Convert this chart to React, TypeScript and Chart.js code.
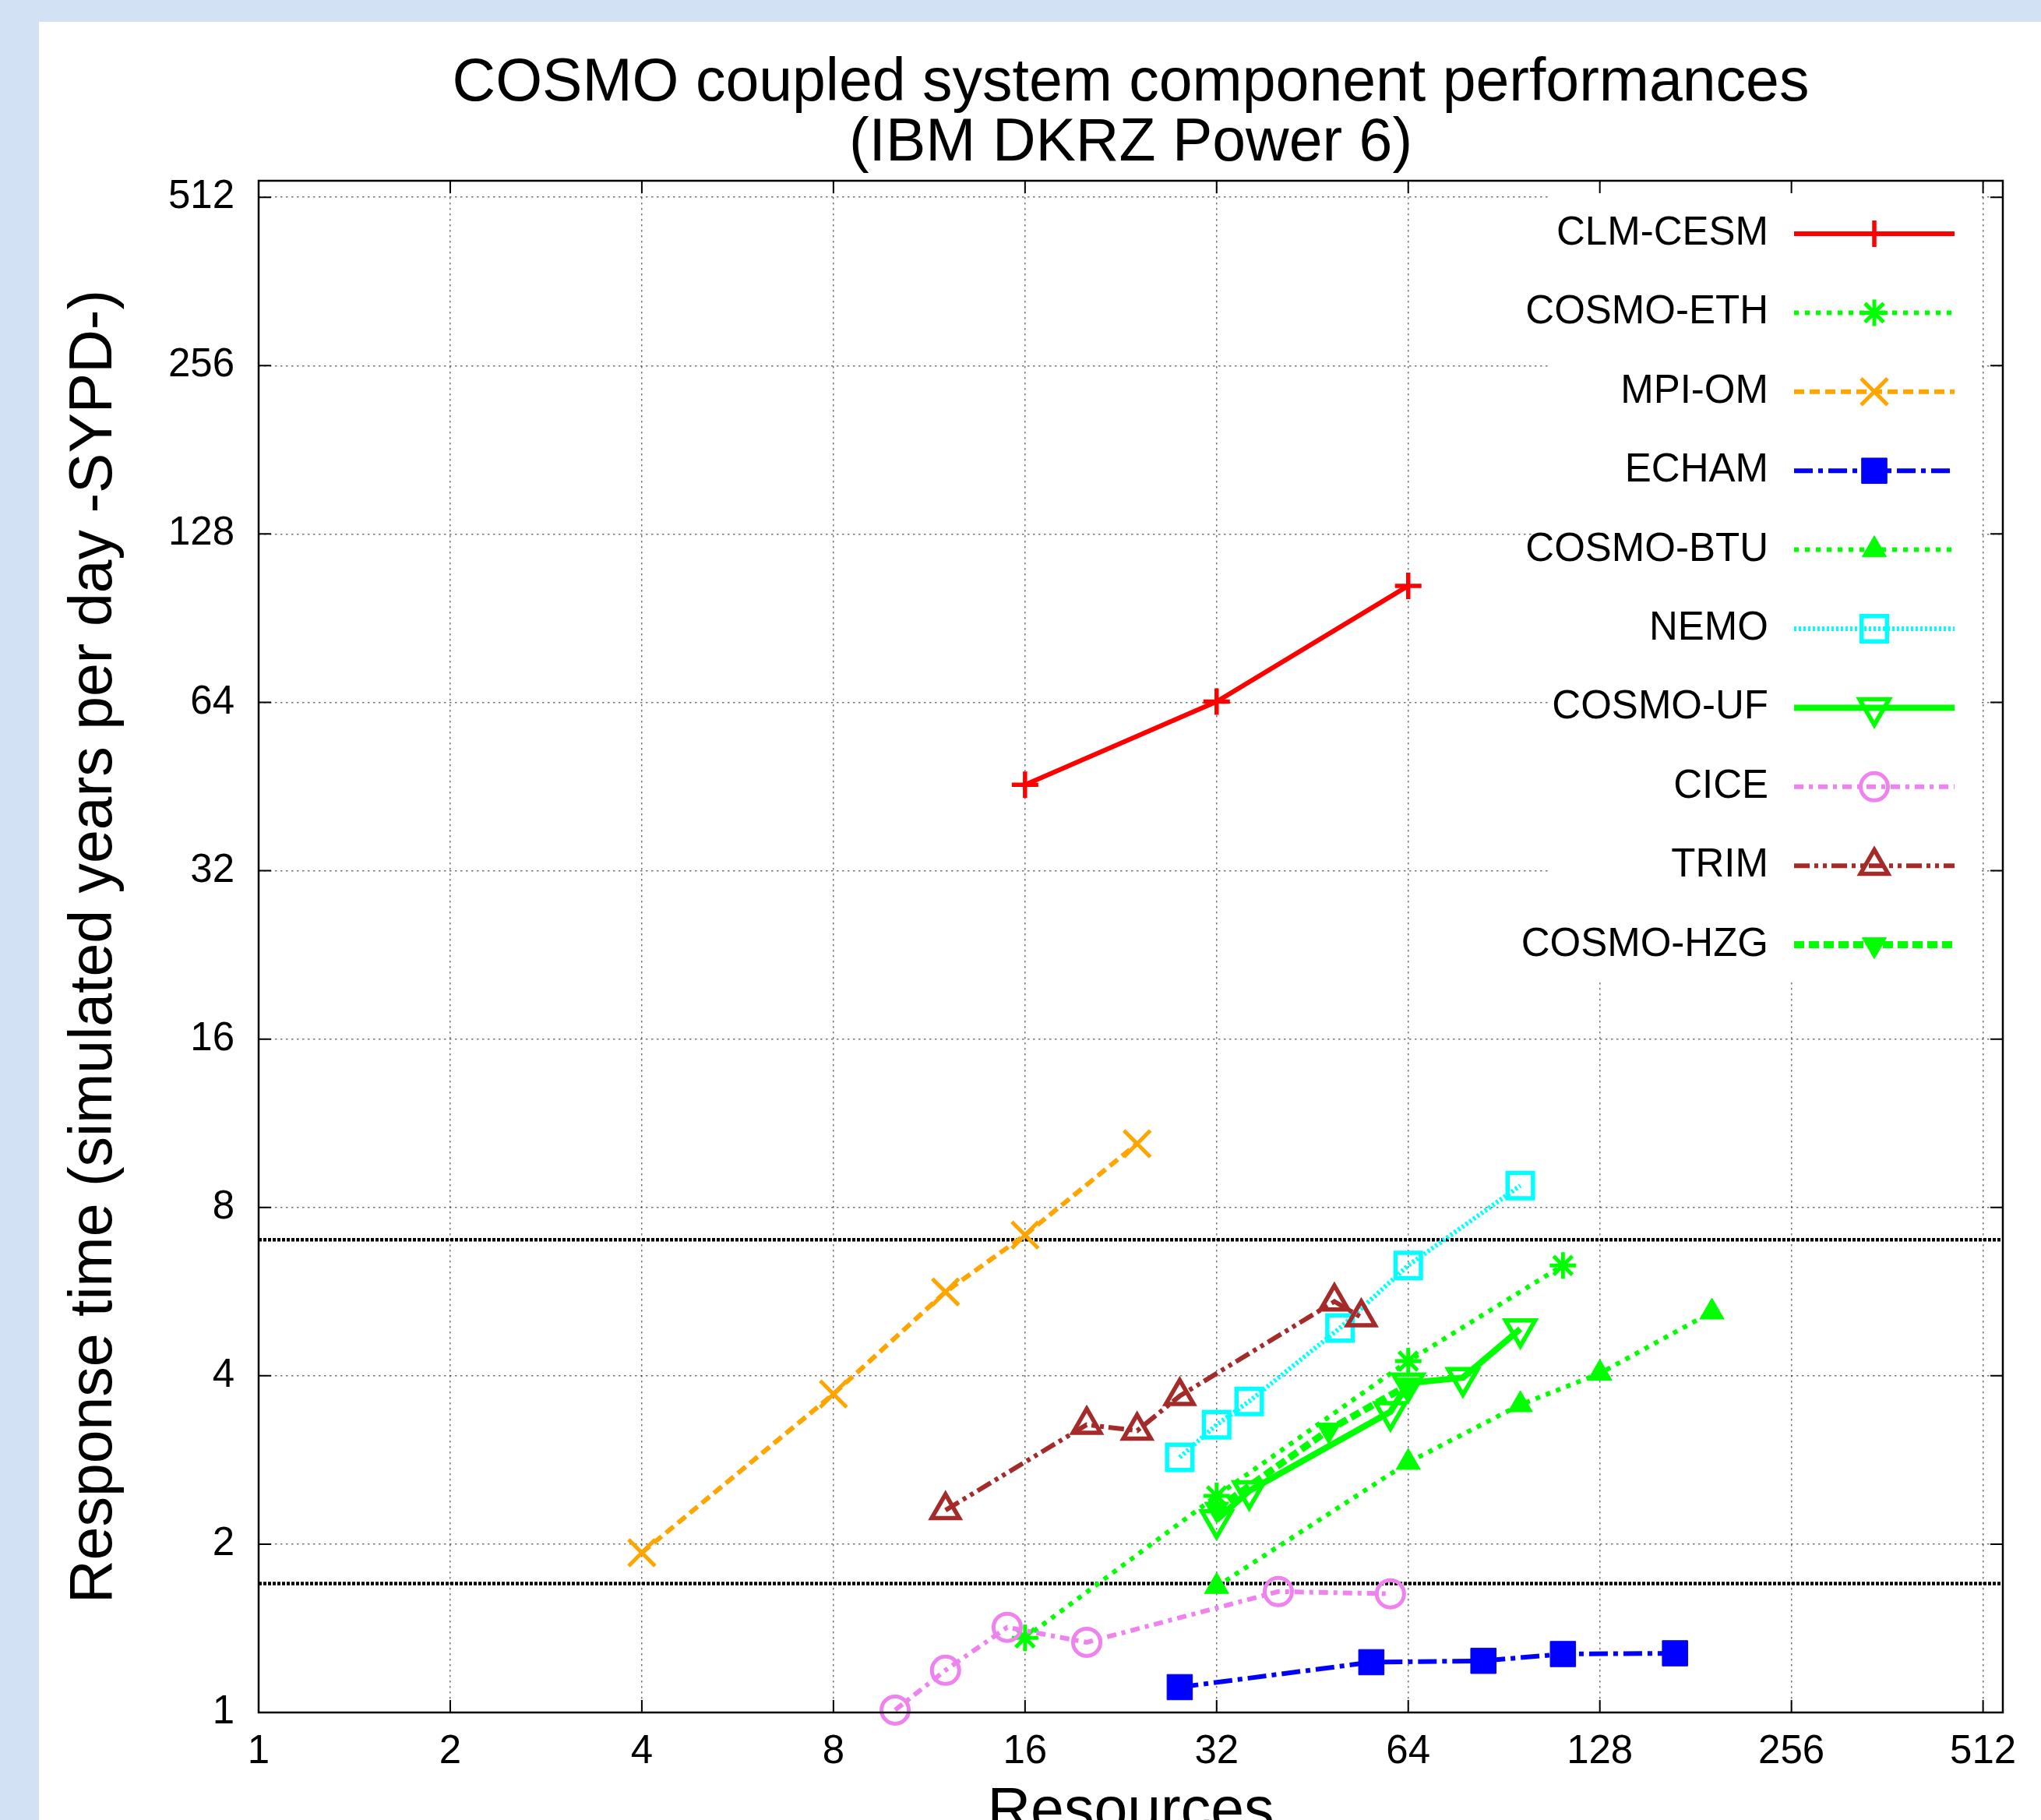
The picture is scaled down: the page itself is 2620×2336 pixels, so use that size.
import React, { useEffect, useRef } from "react";
import { Chart, registerables } from "chart.js";

Chart.register(...registerables);

const W = 2620;
const H = 2440;
const FONT = "'Liberation Sans', Arial, Helvetica, sans-serif";

// ---- text ----
const titleLines = ["COSMO coupled system component performances", "(IBM DKRZ Power 6)"];
const xAxisTitle = "Resources";
const yAxisTitle = "Response time (simulated years per day -SYPD-)";

// ---- ticks ----
const xTickValues = [1, 2, 4, 8, 16, 32, 64, 128, 256, 512];
const yTickValues = [1, 2, 4, 8, 16, 32, 64, 128, 256, 512];
const xMin = 1;
const xMax = 550;
const yMin = 1;
const yMax = 548;

// ---- series ----
const seriesNames = [
  "CLM-CESM",
  "COSMO-ETH",
  "MPI-OM",
  "ECHAM",
  "COSMO-BTU",
  "NEMO",
  "COSMO-UF",
  "CICE",
  "TRIM",
  "COSMO-HZG",
];

const clmCesmX = [16, 32, 64];
const clmCesmY = [45.6, 64.2, 103.4];

const cosmoEthX = [16, 32, 64, 112];
const cosmoEthY = [1.36, 2.44, 4.25, 6.3];

const mpiOmX = [4, 8, 12, 16, 24];
const mpiOmY = [1.93, 3.71, 5.65, 7.14, 10.4];

const echamX = [28, 56, 84, 112, 168];
const echamY = [1.11, 1.23, 1.237, 1.272, 1.276];

const cosmoBtuX = [32, 64, 96, 128, 192];
const cosmoBtuY = [1.68, 2.8, 3.55, 4.04, 5.2];

const nemoX = [28, 32, 36, 50, 64, 96];
const nemoY = [2.86, 3.27, 3.6, 4.87, 6.3, 8.75];

const cosmoUfX = [32, 36, 60, 64, 78, 96];
const cosmoUfY = [2.21, 2.49, 3.45, 3.88, 3.97, 4.85];

const ciceX = [10, 12, 15, 20, 40, 60];
const ciceY = [1.01, 1.19, 1.42, 1.335, 1.645, 1.63];

const trimX = [12, 20, 24, 28, 49, 54];
const trimY = [2.3, 3.27, 3.19, 3.68, 5.43, 5.09];

const cosmoHzgX = [32, 48, 64];
const cosmoHzgY = [2.31, 3.2, 3.85];

const thresholdValues = [7, 1.7];

const seriesX = [clmCesmX, cosmoEthX, mpiOmX, echamX, cosmoBtuX, nemoX, cosmoUfX, ciceX, trimX, cosmoHzgX];
const seriesY = [clmCesmY, cosmoEthY, mpiOmY, echamY, cosmoBtuY, nemoY, cosmoUfY, ciceY, trimY, cosmoHzgY];

// ---- styles ----
type Sty = {
  color: string;
  width: number;
  dash: number[];
  point: string;
  radius: number;
  rot: number;
  fill: boolean;
  pw: number;
};
const seriesStyles: Sty[] = [
  { color: "#ff0000", width: 6, dash: [], point: "cross", radius: 17, rot: 0, fill: false, pw: 5.5 },
  { color: "#00ff00", width: 6, dash: [6, 8], point: "star", radius: 17, rot: 0, fill: false, pw: 5 },
  { color: "#ffa500", width: 6, dash: [13, 7], point: "crossRot", radius: 24, rot: 0, fill: false, pw: 5 },
  { color: "#0000ff", width: 6, dash: [24, 7, 6, 7], point: "rect", radius: 23, rot: 0, fill: true, pw: 1 },
  { color: "#00ff00", width: 6, dash: [6, 8], point: "triangle", radius: 18, rot: 0, fill: true, pw: 1 },
  { color: "#00ffff", width: 6, dash: [3, 3], point: "rect", radius: 23, rot: 0, fill: false, pw: 5.5 },
  { color: "#00ff00", width: 8, dash: [], point: "triangle", radius: 22, rot: 180, fill: false, pw: 5.5 },
  { color: "#ee82ee", width: 6, dash: [12, 7, 5, 7], point: "circle", radius: 17.5, rot: 0, fill: false, pw: 5 },
  { color: "#a52a2a", width: 6, dash: [20, 6, 5, 6, 5, 6], point: "triangle", radius: 20.5, rot: 0, fill: false, pw: 5.5 },
  { color: "#00ff00", width: 9, dash: [13, 6], point: "triangle", radius: 18, rot: 180, fill: true, pw: 1 },
];

// ---- marker drawing for the legend (same geometry as Chart.js point styles) ----
function drawMarker(ctx: CanvasRenderingContext2D, s: Sty, x: number, y: number) {
  const r = s.radius;
  let rad = (s.rot * Math.PI) / 180;
  ctx.save();
  ctx.setLineDash([]);
  ctx.strokeStyle = s.color;
  ctx.fillStyle = s.fill ? s.color : "rgba(0,0,0,0)";
  ctx.lineWidth = s.pw;
  ctx.beginPath();
  const cross = (a: number) => {
    const xo = Math.cos(a) * r;
    const yo = Math.sin(a) * r;
    ctx.moveTo(x - xo, y - yo);
    ctx.lineTo(x + xo, y + yo);
    ctx.moveTo(x + yo, y - xo);
    ctx.lineTo(x - yo, y + xo);
  };
  switch (s.point) {
    case "circle":
      ctx.arc(x, y, r, 0, Math.PI * 2);
      ctx.closePath();
      break;
    case "cross":
      cross(rad);
      break;
    case "crossRot":
      cross(rad + Math.PI / 4);
      break;
    case "star":
      cross(rad);
      cross(rad + Math.PI / 4);
      break;
    case "rect": {
      const sz = Math.SQRT1_2 * r;
      ctx.rect(x - sz, y - sz, 2 * sz, 2 * sz);
      break;
    }
    case "triangle":
      ctx.moveTo(x + Math.sin(rad) * r, y - Math.cos(rad) * r);
      rad += (2 * Math.PI) / 3;
      ctx.lineTo(x + Math.sin(rad) * r, y - Math.cos(rad) * r);
      rad += (2 * Math.PI) / 3;
      ctx.lineTo(x + Math.sin(rad) * r, y - Math.cos(rad) * r);
      ctx.closePath();
      break;
  }
  if (s.fill) ctx.fill();
  ctx.stroke();
  ctx.restore();
}

// ---- plugins ----
const pageBackground = {
  id: "pageBackground",
  beforeDraw(chart: any) {
    const ctx = chart.ctx;
    ctx.save();
    ctx.fillStyle = "#d3e1f5";
    ctx.fillRect(0, 0, W, H);
    ctx.fillStyle = "#ffffff";
    ctx.fillRect(50, 28, W - 50, H - 28);
    ctx.restore();
  },
};

const LEG = { boxL: 1991, boxR: 2540, boxT: 234, boxB: 1258, textX: 2270, lineL: 2303, lineR: 2509, markX: 2406, y0: 300, step: 101.4 };

const legendBox = {
  id: "legendBox",
  beforeDatasetsDraw(chart: any) {
    const ctx = chart.ctx;
    ctx.save();
    ctx.fillStyle = "#ffffff";
    ctx.fillRect(LEG.boxL, LEG.boxT, LEG.boxR - LEG.boxL, LEG.boxB - LEG.boxT);
    ctx.restore();
  },
  afterDatasetsDraw(chart: any) {
    const ctx = chart.ctx;
    const { left, right, top, bottom } = chart.chartArea;
    const xs = chart.scales.x;
    const ys = chart.scales.y;
    ctx.save();
    // frame
    ctx.strokeStyle = "#000";
    ctx.lineWidth = 2.5;
    ctx.setLineDash([]);
    ctx.strokeRect(left, top, right - left, bottom - top);
    // inward tick marks on all four sides
    ctx.lineWidth = 2;
    const tl = 16;
    ctx.beginPath();
    xTickValues.forEach((v) => {
      const px = xs.getPixelForValue(v);
      ctx.moveTo(px, bottom);
      ctx.lineTo(px, bottom - tl);
      ctx.moveTo(px, top);
      ctx.lineTo(px, top + tl);
    });
    yTickValues.forEach((v) => {
      const py = ys.getPixelForValue(v);
      ctx.moveTo(left, py);
      ctx.lineTo(left + tl, py);
      ctx.moveTo(right, py);
      ctx.lineTo(right - tl, py);
    });
    ctx.stroke();
    // legend entries
    ctx.font = `51px ${FONT}`;
    ctx.textAlign = "right";
    ctx.textBaseline = "middle";
    seriesNames.forEach((name, i) => {
      const s = seriesStyles[i];
      const y = LEG.y0 + i * LEG.step;
      ctx.fillStyle = "#000";
      ctx.fillText(name, LEG.textX, y);
      ctx.save();
      ctx.strokeStyle = s.color;
      ctx.lineWidth = s.width;
      ctx.setLineDash(s.dash);
      ctx.beginPath();
      ctx.moveTo(LEG.lineL, y);
      ctx.lineTo(LEG.lineR, y);
      ctx.stroke();
      ctx.restore();
      drawMarker(ctx, s, LEG.markX, y);
    });
    ctx.restore();
  },
};

export default function App() {
  const ref = useRef<HTMLCanvasElement>(null);

  useEffect(() => {
    if (!ref.current) return;

    const datasets: any[] = seriesNames.map((name, i) => {
      const s = seriesStyles[i];
      return {
        label: name,
        data: seriesX[i].map((x, j) => ({ x, y: seriesY[i][j] })),
        borderColor: s.color,
        backgroundColor: s.color,
        borderWidth: s.width,
        borderDash: s.dash,
        pointStyle: s.point,
        pointRadius: s.radius,
        pointRotation: s.rot,
        pointBorderWidth: s.pw,
        pointBorderColor: s.color,
        pointBackgroundColor: s.fill ? s.color : "rgba(0,0,0,0)",
        fill: false,
        tension: 0,
        clip: false,
        order: 20 - i,
      };
    });

    thresholdValues.forEach((v) => {
      datasets.push({
        label: "threshold " + v,
        data: [
          { x: xMin, y: v },
          { x: xMax, y: v },
        ],
        borderColor: "#000000",
        borderWidth: 4.5,
        borderDash: [4, 2],
        pointRadius: 0,
        fill: false,
        tension: 0,
        clip: false,
        order: 100,
      });
    });

    const tickFont = { family: FONT, size: 51 };

    const chart = new Chart(ref.current, {
      type: "line",
      data: { datasets },
      options: {
        animation: false,
        responsive: false,
        devicePixelRatio: 1,
        events: [],
        layout: { padding: { left: 50, right: 49, top: 28, bottom: 40 } },
        plugins: {
          legend: { display: false },
          tooltip: { enabled: false },
          title: {
            display: true,
            text: titleLines,
            fullSize: false,
            color: "#000",
            font: { family: FONT, size: 77, weight: "normal", lineHeight: 77 / 77 },
            padding: { top: 41.5, bottom: 8.5 },
          },
        },
        scales: {
          x: {
            type: "logarithmic",
            position: "bottom",
            min: xMin,
            max: xMax,
            afterBuildTicks: (s: any) => {
              s.ticks = xTickValues.map((v) => ({ value: v }));
            },
            afterFit: (s: any) => {
              s.height = 202;
            },
            ticks: {
              autoSkip: false,
              maxRotation: 0,
              minRotation: 0,
              padding: 20,
              color: "#000",
              font: tickFont,
              callback: (v: any) => String(v),
            },
            grid: { color: "rgba(0,0,0,0.55)", lineWidth: 1.5, drawTicks: false },
            border: { display: false, dash: [2.5, 4.5] },
            title: {
              display: true,
              text: xAxisTitle,
              color: "#000",
              font: { family: FONT, size: 77, lineHeight: 1 },
              padding: { top: 0, bottom: 35 },
            },
          },
          y: {
            type: "logarithmic",
            position: "left",
            min: yMin,
            max: yMax,
            afterBuildTicks: (s: any) => {
              s.ticks = yTickValues.map((v) => ({ value: v }));
            },
            afterFit: (s: any) => {
              s.width = 282;
            },
            ticks: {
              autoSkip: false,
              padding: 31,
              color: "#000",
              font: tickFont,
              callback: (v: any) => String(v),
            },
            grid: { color: "rgba(0,0,0,0.55)", lineWidth: 1.5, drawTicks: false },
            border: { display: false, dash: [2.5, 4.5] },
            title: {
              display: true,
              text: yAxisTitle,
              color: "#000",
              font: { family: FONT, size: 77, lineHeight: 1 },
              padding: { top: 33.5, bottom: 0 },
            },
          },
        },
      },
      plugins: [pageBackground, legendBox],
    } as any);

    return () => chart.destroy();
  }, []);

  return (
    <div
      style={{
        position: "fixed",
        left: 0,
        top: 0,
        width: 2620,
        height: 2336,
        overflow: "hidden",
        background: "#d3e1f5",
      }}
    >
      <canvas ref={ref} width={W} height={H} style={{ display: "block", width: W, height: H }} />
    </div>
  );
}
